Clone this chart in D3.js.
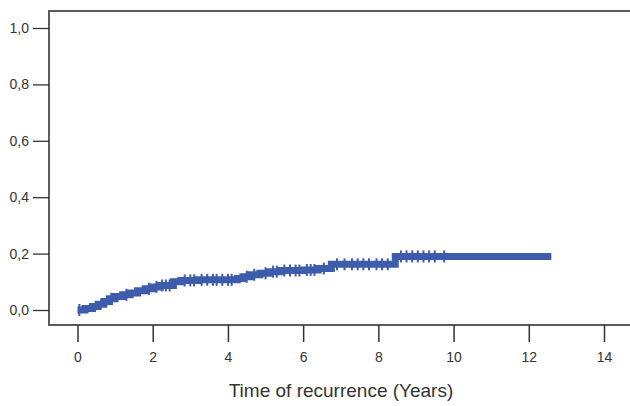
<!DOCTYPE html>
<html>
<head>
<meta charset="utf-8">
<script src="https://cdn.jsdelivr.net/npm/d3@7"></script>
<style>
  body { margin: 0; background: #fff; }
  svg { display: block; }
  .tick text { font-family: "Liberation Sans", Arial, sans-serif; fill: #333; }
</style>
</head>
<body>
<div id="chart"></div>
<script>
// step times (years) and cumulative incidence after each step
const stepTimes = [0, 0.2, 0.4, 0.55, 0.7, 0.85, 1.0, 1.2, 1.4, 1.6, 1.8, 2.0, 2.2, 2.55, 2.75, 3.2,
  4.25, 4.4, 4.6, 4.85, 5.1, 5.4, 6.0, 6.4, 6.75, 8.45, 12.6];
const stepValues = [0, 0.005, 0.012, 0.02, 0.03, 0.04, 0.048, 0.054, 0.06, 0.068, 0.075, 0.082, 0.087, 0.1, 0.105, 0.107,
  0.112, 0.118, 0.125, 0.13, 0.136, 0.14, 0.142, 0.147, 0.162, 0.19, 0.19];
// censored observations (years)
const censorTimes = [0.05, 0.9, 1.3, 1.9, 2.1, 2.25, 2.35, 2.45, 2.85, 3.0, 3.1, 3.3, 3.45, 3.6, 3.7, 3.85, 4.0, 4.1,
  4.5, 4.7, 5.0, 5.2, 5.3, 5.5, 5.65, 5.8, 5.9, 6.1, 6.2, 6.3, 6.55,
  6.9, 7.1, 7.3, 7.45, 7.6, 7.75, 7.95, 8.1, 8.25, 8.6, 8.75, 8.9, 9.05, 9.2, 9.35, 9.5, 9.75];
const xTicks = [0, 2, 4, 6, 8, 10, 12, 14];
const yTicks = [0, 0.2, 0.4, 0.6, 0.8, 1.0];

const width = 630, height = 406;
const frame = { left: 49, top: 11, right: 634, bottom: 325 };

const svg = d3.select("#chart").append("svg")
  .attr("width", width)
  .attr("height", height);

const x = d3.scaleLinear().domain([0, 14]).range([77.5, 604]);
const y = d3.scaleLinear().domain([0, 1]).range([310, 28]);

const fmt = d => d3.format(".1f")(d).replace(".", ",");

// axes
const yAxis = svg.append("g")
  .attr("transform", `translate(${frame.left},0)`)
  .call(d3.axisLeft(y).tickValues(yTicks).tickSize(16).tickPadding(4).tickFormat(fmt));
yAxis.select(".domain").remove();
yAxis.selectAll("line").attr("stroke", "#333").attr("stroke-width", 1.3);
yAxis.selectAll("text").attr("font-size", 14);

const xAxis = svg.append("g")
  .attr("transform", `translate(0,${frame.bottom})`)
  .call(d3.axisBottom(x).tickValues(xTicks).tickSize(17).tickPadding(10).tickFormat(d3.format("d")));
xAxis.select(".domain").remove();
xAxis.selectAll("line").attr("stroke", "#333").attr("stroke-width", 1.5);
xAxis.selectAll("text").attr("font-size", 14);

// frame
svg.append("rect")
  .attr("x", frame.left)
  .attr("y", frame.top)
  .attr("width", frame.right - frame.left)
  .attr("height", frame.bottom - frame.top)
  .attr("fill", "none")
  .attr("stroke", "#333")
  .attr("stroke-width", 1.6);

// curve
const pts = stepTimes.map((t, i) => [t, stepValues[i]]);
const line = d3.line()
  .x(d => x(d[0]))
  .y(d => y(d[1]))
  .curve(d3.curveStepAfter);

svg.append("path")
  .datum(pts)
  .attr("d", line)
  .attr("fill", "none")
  .attr("stroke", "#3d5cab")
  .attr("stroke-width", 7);

function valueAt(t) {
  let v = 0;
  stepTimes.forEach((s, i) => { if (s <= t) v = stepValues[i]; });
  return v;
}

svg.append("g")
  .selectAll("line")
  .data(censorTimes)
  .enter().append("line")
  .attr("x1", d => x(d))
  .attr("x2", d => x(d))
  .attr("y1", d => y(valueAt(d)) - 6)
  .attr("y2", d => y(valueAt(d)) + 6)
  .attr("stroke", "#3d5cab")
  .attr("stroke-width", 2);

// axis title
svg.append("text")
  .attr("x", 341)
  .attr("y", 397)
  .attr("text-anchor", "middle")
  .attr("font-family", "Liberation Sans, Arial, sans-serif")
  .attr("font-size", 19)
  .attr("fill", "#333")
  .text("Time of recurrence (Years)");
</script>
</body>
</html>
